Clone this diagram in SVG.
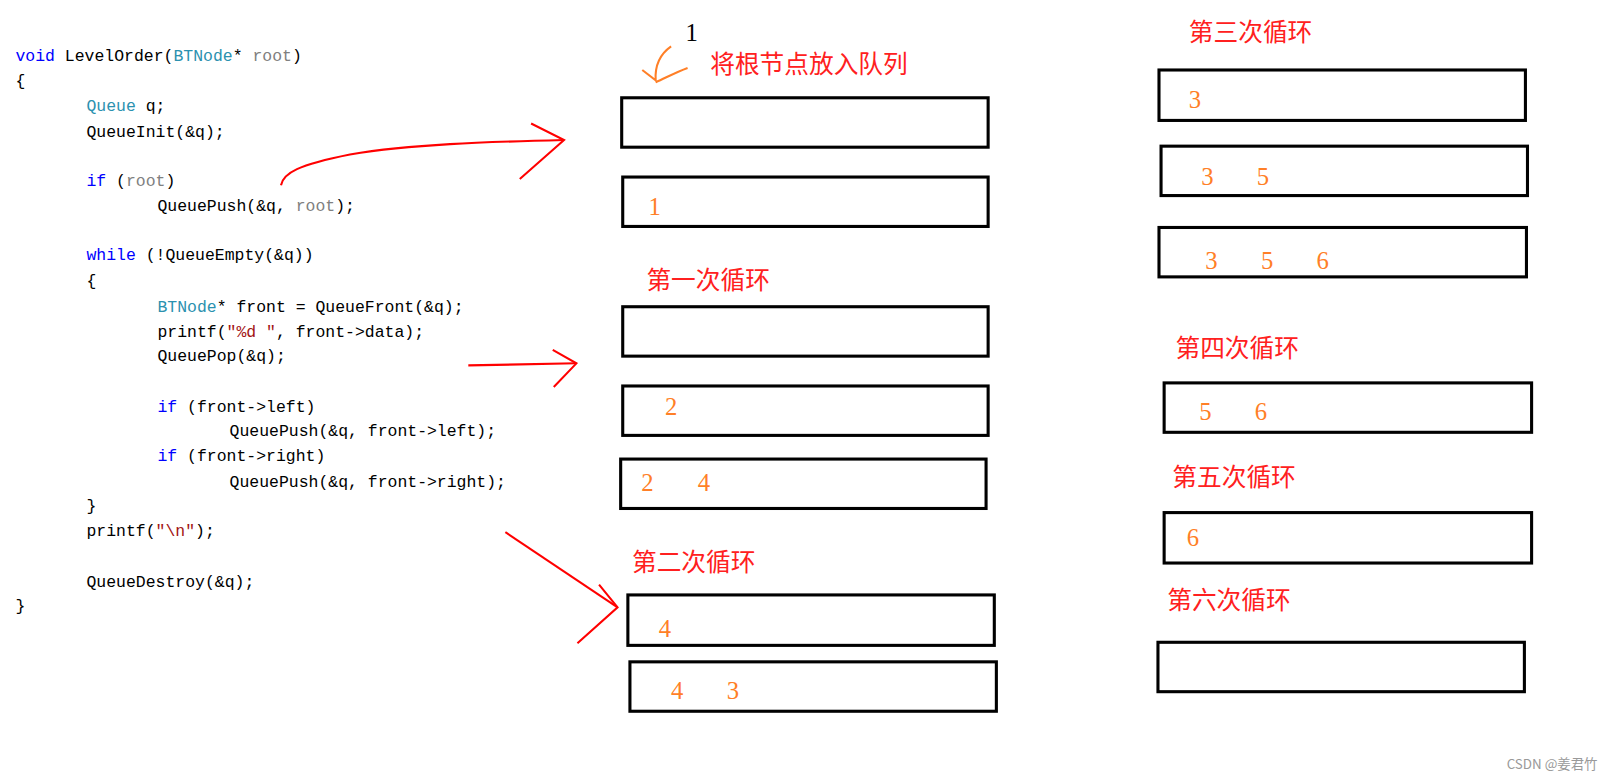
<svg xmlns="http://www.w3.org/2000/svg" width="1614" height="780" viewBox="0 0 1614 780">
<style>
.c{font-family:"Liberation Mono",monospace;font-size:16px;fill:#000}
.k{fill:#0000ff}.t{fill:#2b91af}.g{fill:#808080}.s{fill:#a31515}
.box{fill:#fff;stroke:#000;stroke-width:3}
.h{font-family:"Noto Sans CJK SC",sans-serif;font-size:24px;fill:#ff2020}
.n{font-family:"Liberation Serif",serif;font-size:24px;fill:#ff7f27}
.r{fill:none;stroke:#ff0000;stroke-width:2}
</style>
<rect width="1614" height="780" fill="#fff"/>
<g transform="scale(1.0293)">
<g id="code">
<text class="c" x="15" y="59"><tspan class="k">void</tspan> LevelOrder(<tspan class="t">BTNode</tspan>* <tspan class="g">root</tspan>)</text>
<text class="c" x="15" y="84">{</text>
<text class="c" x="84" y="108"><tspan class="t">Queue</tspan> q;</text>
<text class="c" x="84" y="133">QueueInit(&amp;q);</text>
<text class="c" x="84" y="181"><tspan class="k">if</tspan> (<tspan class="g">root</tspan>)</text>
<text class="c" x="153" y="205">QueuePush(&amp;q, <tspan class="g">root</tspan>);</text>
<text class="c" x="84" y="253"><tspan class="k">while</tspan> (!QueueEmpty(&amp;q))</text>
<text class="c" x="84" y="278">{</text>
<text class="c" x="153" y="303"><tspan class="t">BTNode</tspan>* front = QueueFront(&amp;q);</text>
<text class="c" x="153" y="327">printf(<tspan class="s">"%d "</tspan>, front-&gt;data);</text>
<text class="c" x="153" y="351">QueuePop(&amp;q);</text>
<text class="c" x="153" y="400"><tspan class="k">if</tspan> (front-&gt;left)</text>
<text class="c" x="223" y="424">QueuePush(&amp;q, front-&gt;left);</text>
<text class="c" x="153" y="448"><tspan class="k">if</tspan> (front-&gt;right)</text>
<text class="c" x="223" y="473">QueuePush(&amp;q, front-&gt;right);</text>
<text class="c" x="84" y="496">}</text>
<text class="c" x="84" y="521">printf(<tspan class="s">"\n"</tspan>);</text>
<text class="c" x="84" y="570">QueueDestroy(&amp;q);</text>
<text class="c" x="15" y="594">}</text>
</g>
<g id="connectors">
<path class="r" d="M273 180 C275 168 290 160 340 150 C400 140 470 138 548 136"/>
<path class="r" d="M516 120 L548 136 L505 174"/>
<path class="r" d="M455 355 L560 353"/>
<path class="r" d="M537 340 L560 353 L538 376"/>
<path class="r" d="M491 517 L600 590"/>
<path class="r" d="M582 568 L600 590 L561 625"/>
<path d="M652 45 C642 52 636 62 637 78 L624 68 M637 80 C648 75 657 70 668 66" fill="none" stroke="#ff7f27" stroke-width="2"/>
</g>
<g id="labels">
<text x="666" y="40" font-family="Liberation Serif,serif" font-size="24" fill="#000">1</text>
<text class="h" x="690" y="71">将根节点放入队列</text>
<text class="h" x="628" y="281">第一次循环</text>
<text class="h" x="614" y="555">第二次循环</text>
<text class="h" x="1155" y="40">第三次循环</text>
<text class="h" x="1142" y="347">第四次循环</text>
<text class="h" x="1139" y="472">第五次循环</text>
<text class="h" x="1134" y="592">第六次循环</text>
</g>
<g id="boxes">
<rect class="box" x="604" y="95" width="356" height="48"/>
<rect class="box" x="605" y="172" width="355" height="48"/>
<text class="n" x="630" y="209">1</text>
<rect class="box" x="605" y="298" width="355" height="48"/>
<rect class="box" x="605" y="375" width="355" height="48"/>
<text class="n" x="646" y="403">2</text>
<rect class="box" x="603" y="446" width="355" height="48"/>
<text class="n" x="623" y="477">2</text><text class="n" x="678" y="477">4</text>
<rect class="box" x="610" y="578" width="356" height="49"/>
<text class="n" x="640" y="619">4</text>
<rect class="box" x="612" y="643" width="356" height="48"/>
<text class="n" x="652" y="679">4</text><text class="n" x="706" y="679">3</text>
<rect class="box" x="1126" y="68" width="356" height="49"/>
<text class="n" x="1155" y="105">3</text>
<rect class="box" x="1128" y="142" width="356" height="48"/>
<text class="n" x="1167" y="180">3</text><text class="n" x="1221" y="180">5</text>
<rect class="box" x="1126" y="221" width="357" height="48"/>
<text class="n" x="1171" y="261">3</text><text class="n" x="1225" y="261">5</text><text class="n" x="1279" y="261">6</text>
<rect class="box" x="1131" y="372" width="357" height="48"/>
<text class="n" x="1165" y="408">5</text><text class="n" x="1219" y="408">6</text>
<rect class="box" x="1131" y="498" width="357" height="49"/>
<text class="n" x="1153" y="530">6</text>
<rect class="box" x="1125" y="624" width="356" height="48"/>
</g>
<text x="1552" y="747" text-anchor="end" font-family="Noto Sans CJK SC,sans-serif" font-size="13" fill="#999">CSDN @姜君竹</text>
</g>
</svg>
